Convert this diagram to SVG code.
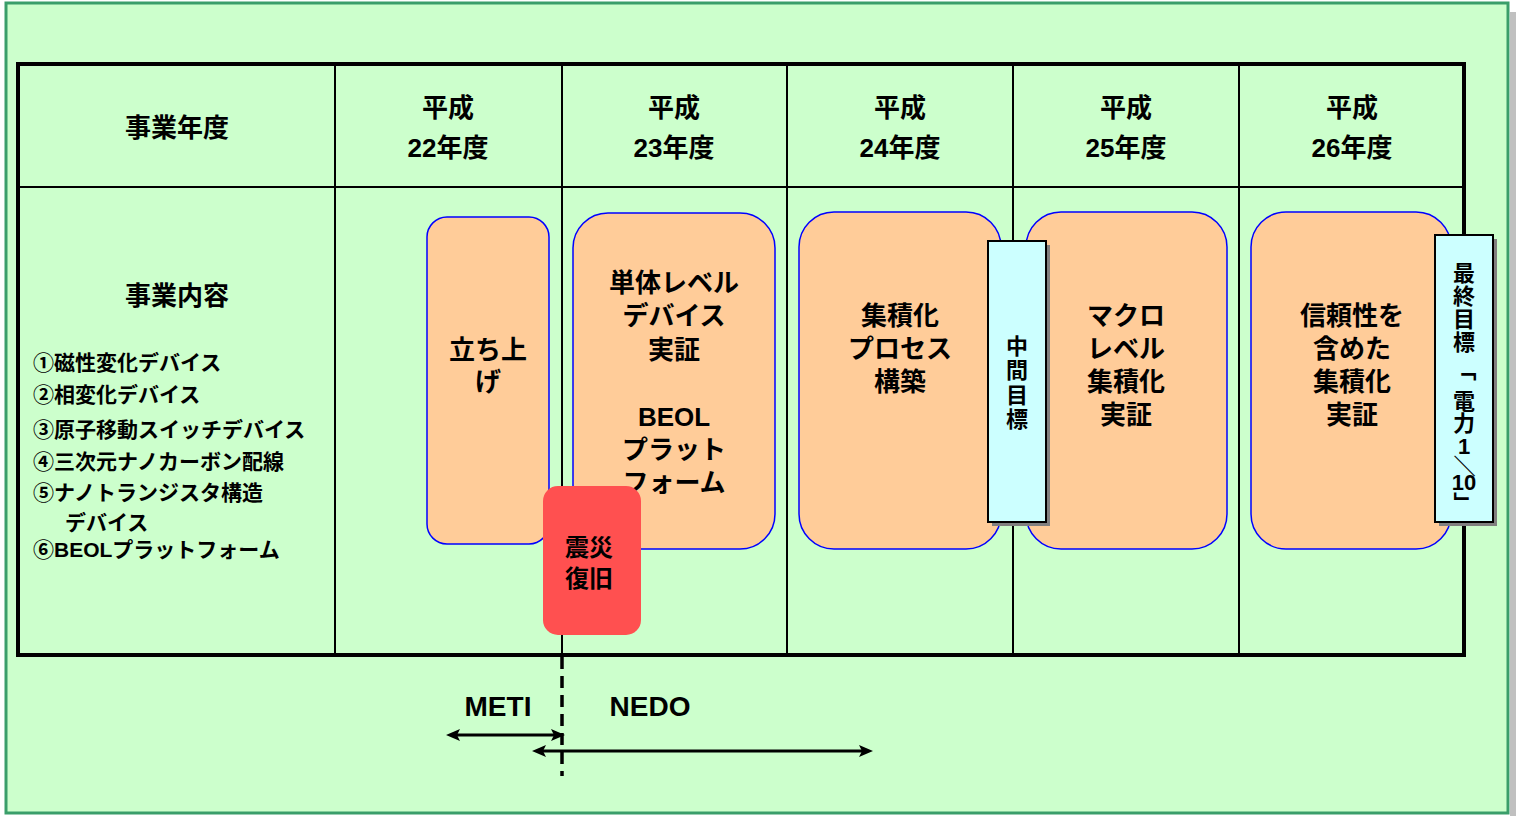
<svg xmlns="http://www.w3.org/2000/svg" width="1516" height="816" viewBox="0 0 1516 816">
<defs>
<style>
text{font-family:"Liberation Sans","Noto Sans CJK JP",sans-serif;font-weight:bold;fill:#000;text-anchor:middle}
.hd{font-size:26px}
.bx{font-size:26px}
.ls{font-size:21px;text-anchor:start}
.vt{font-size:22px}
.vr{font-size:22px;dominant-baseline:central}
.lab{font-size:28px}
.task{fill:#ffcc99;stroke:#0000ff;stroke-width:1.5}
.goal{fill:#ccffff;stroke:#000;stroke-width:2}
.shd{fill:#808080}
.grid{stroke:#000;stroke-width:2;fill:none}
.arrow{stroke:#000;stroke-width:3;fill:none;marker-start:url(#ah);marker-end:url(#ah)}
</style>
<marker id="ah" viewBox="0 0 14 12" refX="4" refY="6" markerWidth="14" markerHeight="12" markerUnits="userSpaceOnUse" orient="auto-start-reverse">
<path d="M0,0 L14,6 L0,12 L3,6 Z" fill="#000"/>
</marker>
</defs>
<rect x="1510" y="12" width="8" height="810" fill="#c0c0c0"/>
<rect x="6" y="3" width="1502" height="810" fill="#ccffcc" stroke="#3a9e6a" stroke-width="3"/>
<g id="table">
<line class="grid" x1="18" y1="187" x2="1464" y2="187"/>
<line class="grid" x1="335" y1="64" x2="335" y2="655"/>
<line class="grid" x1="562" y1="64" x2="562" y2="655"/>
<line class="grid" x1="787" y1="64" x2="787" y2="655"/>
<line class="grid" x1="1013" y1="64" x2="1013" y2="655"/>
<line class="grid" x1="1239" y1="64" x2="1239" y2="655"/>
<rect x="18" y="64" width="1446" height="591" fill="none" stroke="#000" stroke-width="4"/>
<text class="hd" x="177" y="137">事業年度</text>
<text class="hd" x="448" y="117">平成</text><text class="hd" x="448" y="157">22年度</text>
<text class="hd" x="674" y="117">平成</text><text class="hd" x="674" y="157">23年度</text>
<text class="hd" x="900" y="117">平成</text><text class="hd" x="900" y="157">24年度</text>
<text class="hd" x="1126" y="117">平成</text><text class="hd" x="1126" y="157">25年度</text>
<text class="hd" x="1352" y="117">平成</text><text class="hd" x="1352" y="157">26年度</text>
<text class="hd" x="177" y="305">事業内容</text>
<text class="ls" x="33" y="370">①磁性変化デバイス</text>
<text class="ls" x="33" y="402">②相変化デバイス</text>
<text class="ls" x="33" y="437">③原子移動スイッチデバイス</text>
<text class="ls" x="33" y="469">④三次元ナノカーボン配線</text>
<text class="ls" x="33" y="500">⑤ナノトランジスタ構造</text>
<text class="ls" x="65" y="530">デバイス</text>
<text class="ls" x="33" y="557">⑥BEOLプラットフォーム</text>
</g>
<g id="node-startup">
<rect class="task" x="427" y="217" width="122" height="327" rx="20"/>
<text class="bx" x="488" y="359">立ち上</text>
<text class="bx" x="488" y="391">げ</text>
</g>
<g id="node-single">
<rect class="task" x="573" y="213" width="202" height="336" rx="35"/>
<text class="bx" x="674" y="292">単体レベル</text>
<text class="bx" x="674" y="325">デバイス</text>
<text class="bx" x="674" y="359">実証</text>
<text class="bx" x="674" y="426">BEOL</text>
<text class="bx" x="674" y="459">プラット</text>
<text class="bx" x="674" y="492">フォーム</text>
</g>
<g id="node-quake">
<rect x="543" y="486" width="98" height="149" rx="15" fill="#ff5050"/>
<text class="bx" x="589" y="556" style="font-size:24px">震災</text>
<text class="bx" x="589" y="587" style="font-size:24px">復旧</text>
</g>
<g id="node-process">
<rect class="task" x="799" y="212" width="202" height="337" rx="35"/>
<text class="bx" x="900" y="325">集積化</text>
<text class="bx" x="900" y="358">プロセス</text>
<text class="bx" x="900" y="391">構築</text>
</g>
<g id="node-macro">
<rect class="task" x="1026" y="212" width="201" height="337" rx="35"/>
<text class="bx" x="1126" y="325">マクロ</text>
<text class="bx" x="1126" y="358">レベル</text>
<text class="bx" x="1126" y="391">集積化</text>
<text class="bx" x="1126" y="424">実証</text>
</g>
<g id="node-reliability">
<rect class="task" x="1251" y="212" width="200" height="337" rx="35"/>
<text class="bx" x="1352" y="325">信頼性を</text>
<text class="bx" x="1352" y="358">含めた</text>
<text class="bx" x="1352" y="391">集積化</text>
<text class="bx" x="1352" y="424">実証</text>
</g>
<g id="node-midgoal">
<rect class="shd" x="992" y="245" width="58" height="281"/>
<rect class="goal" x="988" y="241" width="58" height="281"/>
<text class="vt" x="1017" y="354">中</text>
<text class="vt" x="1017" y="378">間</text>
<text class="vt" x="1017" y="403">目</text>
<text class="vt" x="1017" y="427">標</text>
</g>
<g id="node-finalgoal">
<rect class="shd" x="1439" y="239" width="58" height="287"/>
<rect class="goal" x="1435" y="235" width="58" height="287"/>
<text class="vt" x="1464" y="281">最</text>
<text class="vt" x="1464" y="304">終</text>
<text class="vt" x="1464" y="327">目</text>
<text class="vt" x="1464" y="350">標</text>
<text class="vr" x="0" y="0" transform="translate(1464,370) rotate(90)">「</text>
<text class="vt" x="1464" y="409">電</text>
<text class="vt" x="1464" y="431">力</text>
<text class="vt" x="1464" y="454">1</text>
<text class="vr" x="0" y="0" transform="translate(1464,466) rotate(90)">／</text>
<text class="vt" x="1464" y="490">10</text>
<text class="vr" x="0" y="0" transform="translate(1464,503) rotate(90)">」</text>
</g>
<g id="connectors">
<line x1="562" y1="657" x2="562" y2="776" stroke="#000" stroke-width="3.5" stroke-dasharray="12,7"/>
<line class="arrow" x1="456" y1="735" x2="555" y2="735"/>
<line class="arrow" x1="542" y1="751" x2="863" y2="751"/>
</g>
<g id="labels">
<text class="lab" x="498" y="716">METI</text>
<text class="lab" x="650" y="716">NEDO</text>
</g>
</svg>
